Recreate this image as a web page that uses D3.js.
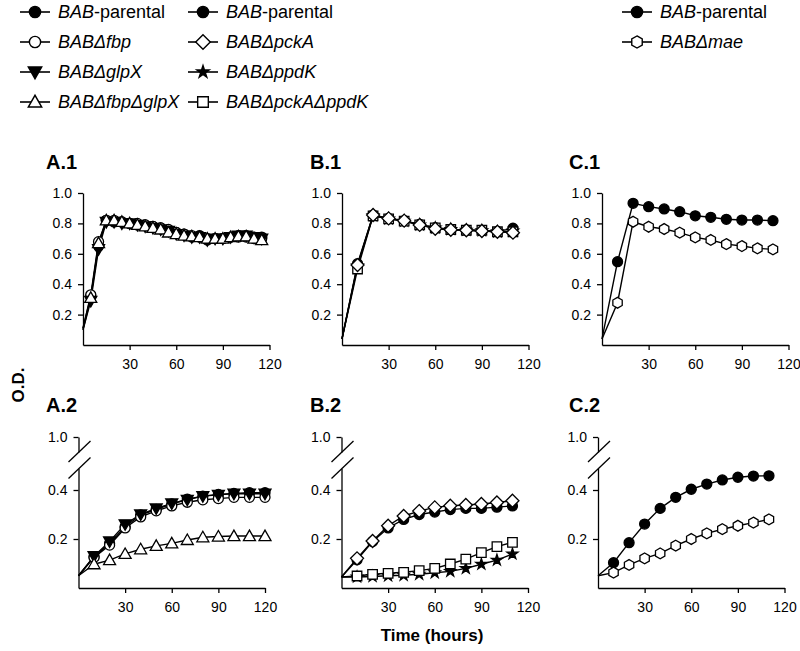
<!DOCTYPE html>
<html><head><meta charset="utf-8">
<script src="https://cdn.jsdelivr.net/npm/d3@7"></script>
<style>body{margin:0;background:#fff} svg{display:block} text{font-family:"Liberation Sans",Arial,sans-serif;fill:#000}</style>
</head><body><svg id="c" width="800" height="651"></svg>
<script>
// ---------- DATA ----------
const timesA1 = [0,5,10,15,20,25,30,35,40,45,50,55,60,65,70,75,80,85,90,95,100,105,110,115];
const a1Parental = [0.11,0.32,0.65,0.82,0.81,0.81,0.80,0.79,0.79,0.78,0.77,0.75,0.74,0.73,0.71,0.72,0.69,0.70,0.70,0.71,0.72,0.72,0.71,0.71];
const a1Fbp      = [0.11,0.33,0.68,0.82,0.82,0.81,0.80,0.80,0.79,0.78,0.77,0.76,0.74,0.73,0.72,0.71,0.70,0.70,0.70,0.71,0.71,0.71,0.70,0.70];
const a1GlpX     = [0.10,0.29,0.63,0.81,0.81,0.80,0.80,0.79,0.78,0.77,0.76,0.75,0.73,0.72,0.71,0.71,0.69,0.70,0.70,0.71,0.72,0.72,0.71,0.70];
const a1FbpGlpX  = [0.10,0.31,0.67,0.82,0.82,0.81,0.80,0.79,0.78,0.77,0.76,0.74,0.73,0.72,0.715,0.71,0.70,0.70,0.70,0.71,0.715,0.715,0.70,0.69];

const timesA2 = [0,10,20,30,40,50,60,70,80,90,100,110,120];
const a2Parental = [0.05,0.128,0.182,0.25,0.298,0.321,0.343,0.363,0.375,0.382,0.386,0.389,0.389];
const a2Fbp      = [0.05,0.125,0.175,0.245,0.29,0.315,0.335,0.35,0.36,0.365,0.37,0.37,0.37];
const a2GlpX     = [0.05,0.13,0.19,0.26,0.30,0.325,0.345,0.36,0.375,0.38,0.385,0.385,0.385];
const a2FbpGlpX  = [0.05,0.097,0.114,0.139,0.158,0.172,0.182,0.196,0.207,0.21,0.212,0.212,0.212];

const timesB = [0,10,20,30,40,50,60,70,80,90,100,110];
const b1Parental  = [0.04,0.535,0.855,0.833,0.818,0.794,0.772,0.761,0.757,0.752,0.746,0.768];
const b1PckA      = [0.04,0.526,0.855,0.833,0.818,0.79,0.765,0.758,0.755,0.75,0.745,0.739];
const b1PpdK      = [0.04,0.52,0.85,0.83,0.815,0.79,0.77,0.76,0.755,0.752,0.745,0.75];
const b1PckAPpdK  = [0.04,0.50,0.85,0.83,0.815,0.79,0.77,0.76,0.755,0.755,0.745,0.745];
const b2Parental  = [0.045,0.115,0.19,0.245,0.28,0.30,0.31,0.32,0.325,0.325,0.33,0.335];
const b2PckA      = [0.045,0.121,0.192,0.254,0.294,0.314,0.329,0.336,0.339,0.343,0.349,0.356];
const b2PpdK      = [0.045,0.045,0.047,0.05,0.052,0.056,0.062,0.068,0.08,0.097,0.114,0.139];
const b2PckAPpdK  = [0.045,0.049,0.056,0.06,0.064,0.071,0.08,0.098,0.118,0.144,0.169,0.186];

const timesC = [0,10,20,30,40,50,60,70,80,90,100,110];
const c1Parental = [0.04,0.548,0.932,0.91,0.895,0.877,0.85,0.84,0.827,0.822,0.822,0.818];
const c1Mae      = [0.04,0.278,0.811,0.778,0.763,0.739,0.708,0.691,0.664,0.651,0.636,0.629];
const c2Parental = [0.05,0.103,0.185,0.261,0.325,0.370,0.403,0.424,0.441,0.452,0.457,0.458];
const c2Mae      = [0.05,0.063,0.094,0.121,0.141,0.173,0.2,0.223,0.24,0.254,0.267,0.28];

const xTicks = [30,60,90,120];
const yTicksTop = [0.2,0.4,0.6,0.8,1.0];
const yTicksBottomLow = [0.2,0.4];
const yTicksBottomHigh = [1.0];
const panelTitles = ["A.1","B.1","C.1","A.2","B.2","C.2"];
const legendCols = [
  [["BAB","-parental","parental"],["BAB\u0394fbp","","fbp"],["BAB\u0394glpX","","glpX"],["BAB\u0394fbp\u0394glpX","","fbpglpX"]],
  [["BAB","-parental","parental"],["BAB\u0394pckA","","pckA"],["BAB\u0394ppdK","","ppdK"],["BAB\u0394pckA\u0394ppdK","","pckAppdK"]],
  [["BAB","-parental","parental"],["BAB\u0394mae","","mae"]]
];

// ---------- MARKERS ----------
function markerPath(type, r){
  switch(type){
    case "parental": case "fbp": return d3.symbol(d3.symbolCircle, Math.PI*r*r)();
    case "glpX": { const a=r*1.2; return `M${-a},${-a*0.75}L${a},${-a*0.75}L0,${a*1.0}Z`; }
    case "fbpglpX": { const a=r*1.2; return `M${-a},${a*0.75}L${a},${a*0.75}L0,${-a*1.0}Z`; }
    case "pckA": { const a=r*1.3; return `M0,${-a}L${a},0L0,${a}L${-a},0Z`; }
    case "pckAppdK": { const a=r*0.95; return `M${-a},${-a}H${a}V${a}H${-a}Z`; }
    case "ppdK": return d3.symbol(d3.symbolStar, r*r*1.5)();
    case "mae": { let p=""; for(let k=0;k<6;k++){const an=(-90+60*k)*Math.PI/180; p+=(k?"L":"M")+(r*1.08*Math.cos(an)).toFixed(2)+","+(r*1.08*Math.sin(an)).toFixed(2);} return p+"Z"; }
  }
}
const filled = {parental:true, glpX:true, ppdK:true};

const svg = d3.select("#c");

// ---------- PANELS ----------
function drawPanel(p){
  const g = svg.append("g");
  const x = d3.scaleLinear().domain([0,120]).range([p.x0, p.x0 + 186.5]);
  let y;
  if(p.row===1){
    y = d3.scaleLinear().domain([0,1]).range([345,193]);
    g.append("g").attr("transform",`translate(${p.x0},0)`)
      .call(d3.axisLeft(y).tickValues(yTicksTop).tickFormat(d3.format(".1f")).tickSize(5).tickPadding(6).tickSizeOuter(0));
    g.append("g").attr("transform",`translate(0,345)`)
      .call(d3.axisBottom(x).tickValues(xTicks).tickSize(5).tickPadding(9).tickSizeOuter(0));
  } else {
    y = d3.scaleLinear().domain([0,0.5]).range([588,465.5]);
    const yLow = d3.scaleLinear().domain([0,0.488]).range([588, 588-0.488*245]);
    const yHigh = d3.scaleLinear().domain([0.94,1.0]).range([452,437]);
    g.append("g").attr("transform",`translate(${p.x0},0)`)
      .call(d3.axisLeft(yLow).tickValues(yTicksBottomLow).tickFormat(d3.format(".1f")).tickSize(5).tickPadding(6).tickSizeOuter(0));
    g.append("g").attr("transform",`translate(${p.x0},0)`)
      .call(d3.axisLeft(yHigh).tickValues(yTicksBottomHigh).tickFormat(d3.format(".1f")).tickSize(5).tickPadding(6).tickSizeOuter(0));
    // break marks
    const bx = p.x0, yb1 = yHigh(0.94), yb2 = yLow(0.488);
    [yb1, yb2].forEach(yb=>{
      g.append("line").attr("x1",bx-10).attr("y1",yb+10).attr("x2",bx+12).attr("y2",yb-11)
        .attr("stroke","#000").attr("stroke-width",1.3);
    });
    g.append("g").attr("transform",`translate(0,588)`)
      .call(d3.axisBottom(x).tickValues(xTicks).tickSize(5).tickPadding(9).tickSizeOuter(0));
  }
  g.selectAll(".domain, .tick line").attr("stroke","#000").attr("stroke-width",1.3);
  g.selectAll(".tick text").attr("font-size",14).attr("font-family","'Liberation Sans',Arial,sans-serif").attr("fill","#222");
  // title
  svg.append("text").attr("x",p.tx).attr("y",p.row===1?169:412).attr("font-size",20).attr("font-weight","bold").text(p.title);
  // series
  const line = d3.line().x(d=>x(d[0])).y(d=>y(d[1]));
  p.series.forEach(s=>{
    const pts = p.times.map((t,i)=>[t,s.v[i]]);
    g.append("path").datum(pts).attr("d",line).attr("fill","none").attr("stroke","#000").attr("stroke-width",1.4);
  });
  p.series.forEach(s=>{
    const pts = p.times.map((t,i)=>[t,s.v[i]]).filter(d=>d[0]>0);
    g.selectAll(null).data(pts).enter().append("path")
      .attr("transform",d=>`translate(${x(d[0])},${y(d[1])})`)
      .attr("d",markerPath(s.m, 5))
      .attr("fill",filled[s.m]?"#000":"#fff").attr("stroke","#000").attr("stroke-width",1.3);
  });
}

drawPanel({row:1,x0:83,tx:46,title:panelTitles[0],times:timesA1,series:[
  {v:a1Parental,m:"parental"},{v:a1Fbp,m:"fbp"},{v:a1GlpX,m:"glpX"},{v:a1FbpGlpX,m:"fbpglpX"}]});
drawPanel({row:1,x0:342,tx:310,title:panelTitles[1],times:timesB,series:[
  {v:b1Parental,m:"parental"},{v:b1PpdK,m:"ppdK"},{v:b1PckAPpdK,m:"pckAppdK"},{v:b1PckA,m:"pckA"}]});
drawPanel({row:1,x0:602,tx:569,title:panelTitles[2],times:timesC,series:[
  {v:c1Parental,m:"parental"},{v:c1Mae,m:"mae"}]});
drawPanel({row:2,x0:78.5,tx:46,title:panelTitles[3],times:timesA2,series:[
  {v:a2Parental,m:"parental"},{v:a2Fbp,m:"fbp"},{v:a2GlpX,m:"glpX"},{v:a2FbpGlpX,m:"fbpglpX"}]});
drawPanel({row:2,x0:341.5,tx:310,title:panelTitles[4],times:timesB,series:[
  {v:b2Parental,m:"parental"},{v:b2PpdK,m:"ppdK"},{v:b2PckAPpdK,m:"pckAppdK"},{v:b2PckA,m:"pckA"}]});
drawPanel({row:2,x0:598,tx:569,title:panelTitles[5],times:timesC,series:[
  {v:c2Parental,m:"parental"},{v:c2Mae,m:"mae"}]});

// axis titles
svg.append("text").attr("transform","translate(24,385) rotate(-90)").attr("text-anchor","middle")
  .attr("font-size",17).attr("font-weight","bold").text("O.D.");
svg.append("text").attr("x",432).attr("y",641).attr("text-anchor","middle")
  .attr("font-size",17).attr("font-weight","bold").text("Time (hours)");

// ---------- LEGEND ----------
const legendX = [20, 188, 622];
const legendRowY = [12, 42, 72, 102];
legendCols.forEach((col,ci)=>{
  col.forEach((e,ri)=>{
    const lx = legendX[ci], ly = legendRowY[ri];
    const g = svg.append("g");
    g.append("line").attr("x1",lx).attr("x2",lx+30).attr("y1",ly).attr("y2",ly).attr("stroke","#000").attr("stroke-width",1.6);
    g.append("path").attr("transform",`translate(${lx+15},${ly})`).attr("d",markerPath(e[2],5.6))
      .attr("fill",filled[e[2]]?"#000":"#fff").attr("stroke","#000").attr("stroke-width",1.4);
    const t = g.append("text").attr("x",lx+38).attr("y",ly+6).attr("font-size",18);
    t.append("tspan").attr("font-style","italic").text(e[0]);
    if(e[1]) t.append("tspan").text(e[1]);
  });
});
</script></body></html>
